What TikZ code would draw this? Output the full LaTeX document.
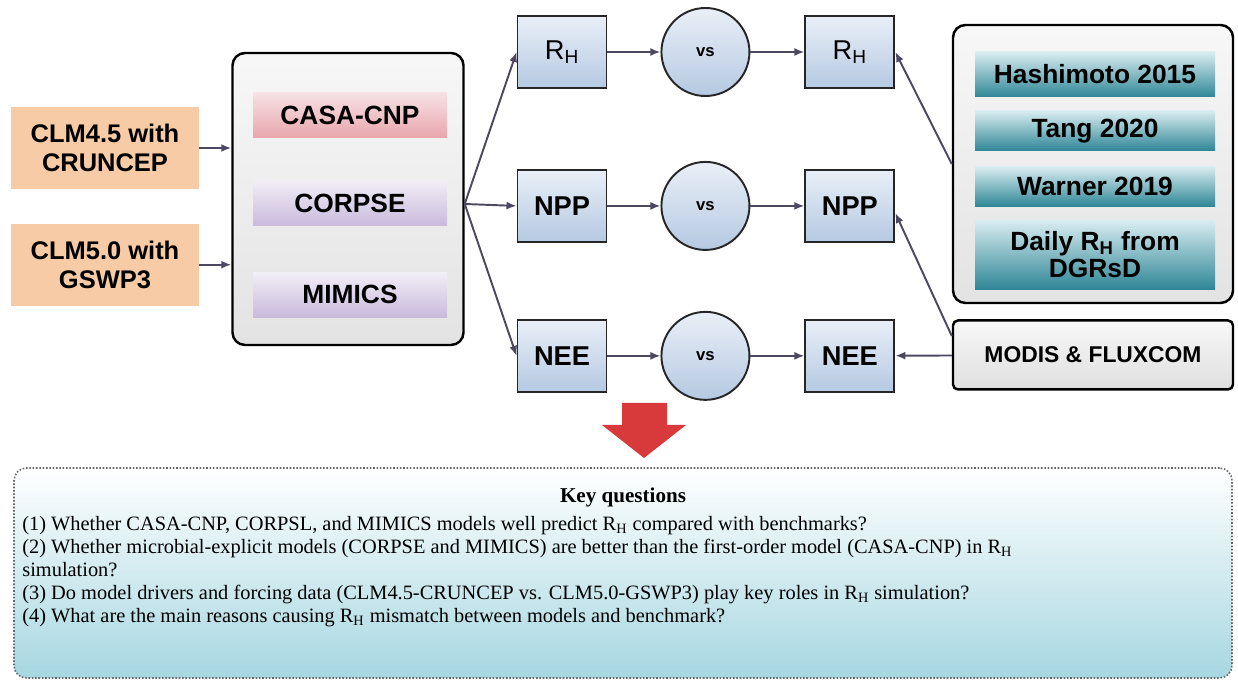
\documentclass[tikz,border=0pt]{standalone}
\usepackage{fontspec}
\setmainfont{Liberation Serif}
\setsansfont{Liberation Sans}
\usepackage{xcolor}
\usepackage{tikz}
\usetikzlibrary{arrows.meta, positioning}
\definecolor{peach}{HTML}{F7CBA5}
\definecolor{pinktop}{HTML}{F6E2E4}
\definecolor{pinkbot}{HTML}{E8A6AD}
\definecolor{lilactop}{HTML}{F2EEF6}
\definecolor{lilacbot}{HTML}{C9BADD}
\definecolor{bluetop}{HTML}{E9EFF7}
\definecolor{bluebot}{HTML}{B5C9E2}
\definecolor{tealtop}{HTML}{D9EDF1}
\definecolor{tealbot}{HTML}{2F8696}
\definecolor{linkgray}{HTML}{4D4862}
\definecolor{qblue}{HTML}{A6D7E1}
\definecolor{arrowred}{HTML}{D83A3B}
\tikzset{
  srcbox/.style={rectangle, fill=peach, align=center, minimum width=37.6mm, minimum height=16.4mm, font=\sffamily\bfseries\fontsize{14.5}{16.5}\selectfont, inner sep=2pt},
  groupbox/.style={rectangle, draw=black, line width=1.4pt, rounded corners=2.5mm, top color=gray!6, bottom color=gray!22},
  modelbar/.style={rectangle, align=center, minimum width=38.8mm, minimum height=9mm, font=\sffamily\bfseries\fontsize{15}{17}\selectfont, inner sep=1pt},
  casabar/.style={modelbar, top color=pinktop, bottom color=pinkbot},
  lilacbar/.style={modelbar, top color=lilactop, bottom color=lilacbot},
  varbox/.style={rectangle, draw=black!85, line width=1.1pt, top color=bluetop, bottom color=bluebot, minimum width=17.8mm, minimum height=14.4mm, font=\sffamily\bfseries\fontsize{15.5}{17}\selectfont, inner sep=1pt},
  vscircle/.style={circle, draw=black!85, line width=1.1pt, top color=bluetop, bottom color=bluebot, minimum size=17.6mm, font=\sffamily\bfseries\fontsize{9.5}{10}\selectfont, inner sep=0pt},
  benchbar/.style={rectangle, align=center, minimum width=48mm, top color=tealtop, bottom color=tealbot, font=\sffamily\bfseries\fontsize{15}{15.5}\selectfont, inner sep=1pt},
  fluxbox/.style={rectangle, draw=black, line width=1.4pt, rounded corners=1mm, top color=gray!6, bottom color=gray!25, minimum width=56mm, minimum height=13.8mm, font=\sffamily\bfseries\fontsize{13}{15}\selectfont},
  qbox/.style={rectangle, draw=black!60, densely dotted, line width=0.9pt, rounded corners=2.5mm, top color=white, bottom color=qblue, minimum width=243.6mm, minimum height=42mm},
  link/.style={-{Latex[length=2mm, width=1.6mm]}, line width=1.1pt, color=linkgray},
}
\begin{document}
\begin{tikzpicture}[x=0.2mm, y=-0.2mm]
  \useasboundingbox (0,0) rectangle (1238,681);
  % drivers and models
  \node[srcbox] (clm45) at (105,148) {CLM4.5 with\\CRUNCEP};
  \node[srcbox, below=6.8mm of clm45] (clm50) {CLM5.0 with\\GSWP3};
  \node[groupbox, minimum width=46.2mm, minimum height=58.4mm] (model) at (348,199) {};
  \node[lilacbar] (corpse) at (350,203) {CORPSE};
  \node[casabar, above=8.4mm of corpse] (casa) {CASA-CNP};
  \node[lilacbar, below=9.2mm of corpse] (mimics) {MIMICS};
  % simulated vs benchmark
  \node[varbox] (rh1) at (562,52) {\mdseries R\textsubscript{H}};
  \node[varbox, below=16mm of rh1] (npp1) {NPP};
  \node[varbox, below=15.2mm of npp1] (nee1) {NEE};
  \node[vscircle, right=10.6mm of rh1] (vs1) {vs};
  \node[vscircle, right=10.6mm of npp1] (vs2) {vs};
  \node[vscircle, right=10.6mm of nee1] (vs3) {vs};
  \node[varbox, right=10.8mm of vs1] (rh2) {\mdseries R\textsubscript{H}};
  \node[varbox, right=10.8mm of vs2] (npp2) {NPP};
  \node[varbox, right=10.8mm of vs3] (nee2) {NEE};
  % benchmarks
  \node[groupbox, minimum width=56mm, minimum height=55.6mm] (bench) at (1093,164) {};
  \node[benchbar, minimum height=9mm] (hashi) at (1095,74.5) {Hashimoto 2015};
  \node[benchbar, minimum height=8mm, below=2.6mm of hashi] (tang) {Tang 2020};
  \node[benchbar, minimum height=8mm, below=3mm of tang] (warner) {Warner 2019};
  \node[benchbar, minimum height=13.8mm, below=2.6mm of warner] (dgrsd) {Daily R\textsubscript{H} from\\DGRsD};
  \node[fluxbox, below=3mm of bench] (modis) {MODIS \& FLUXCOM};
  \draw[link] (clm45) -- (clm45 -| model.west);
  \draw[link] (clm50) -- (clm50 -| model.west);
  \draw[link] ([yshift=-1mm]model.east) -- (rh1.west);
  \draw[link] ([yshift=-1mm]model.east) -- (npp1.west);
  \draw[link] ([yshift=-1mm]model.east) -- (nee1.west);
  \foreach \v/\c/\b in {rh1/vs1/rh2, npp1/vs2/npp2, nee1/vs3/nee2} {
    \draw[link] (\v) -- (\c);
    \draw[link] (\c) -- (\b);
  }
  \draw[link] (bench.west) -- (rh2.east);
  \draw[link] ([yshift=3.8mm]modis.west) -- ([yshift=-1.4mm]npp2.east);
  \draw[link] (modis) -- (nee2);
  % key questions
  \fill[arrowred] (622,403) -- (667,403) -- (667,425) -- (686,425) -- (644,458) -- (602,425) -- (622,425) -- cycle;
  \node[qbox] (keys) at (623,573) {};
  \node[font=\bfseries\fontsize{12}{13}\selectfont] (keytitle) at (623,497) {Key questions};
  \node[anchor=north west, align=left, inner sep=0pt, font=\fontsize{11.6}{13.1}\selectfont] (keytext) at (22,516) {%
    (1) Whether CASA-CNP, CORPSL, and MIMICS models well predict R\textsubscript{H} compared with benchmarks?\\
    (2) Whether microbial-explicit models (CORPSE and MIMICS) are better than the first-order model (CASA-CNP) in R\textsubscript{H}\\
    simulation?\\
    (3) Do model drivers and forcing data (CLM4.5-CRUNCEP vs. CLM5.0-GSWP3) play key roles in R\textsubscript{H} simulation?\\
    (4) What are the main reasons causing R\textsubscript{H} mismatch between models and benchmark?};
\end{tikzpicture}
\end{document}
